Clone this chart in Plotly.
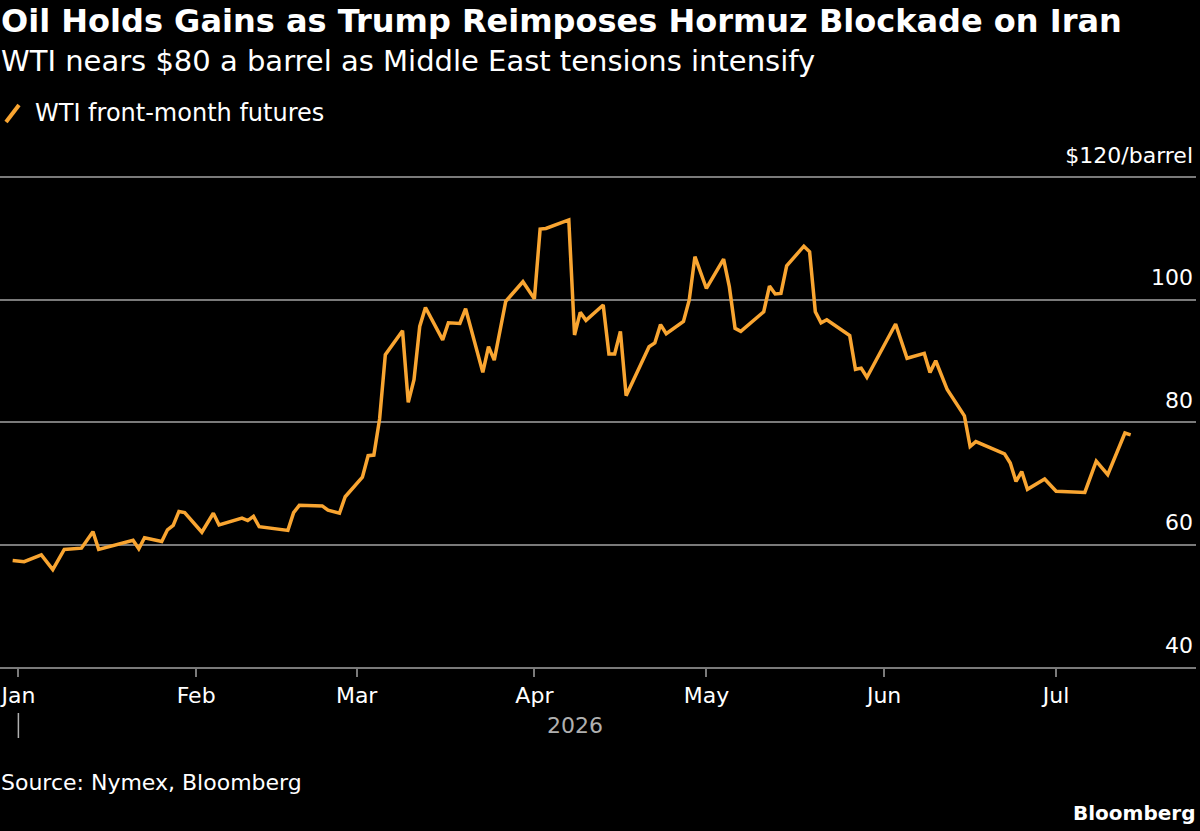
import plotly.graph_objects as go

# ---------------- data ----------------
dates = [
    "2025-12-31", "2026-01-02", "2026-01-05", "2026-01-07", "2026-01-09", "2026-01-12",
    "2026-01-14", "2026-01-15", "2026-01-21", "2026-01-22", "2026-01-23", "2026-01-26",
    "2026-01-27", "2026-01-28", "2026-01-29", "2026-01-30", "2026-02-02", "2026-02-04",
    "2026-02-05", "2026-02-09", "2026-02-10", "2026-02-11", "2026-02-12", "2026-02-17",
    "2026-02-18", "2026-02-19", "2026-02-23", "2026-02-24", "2026-02-26", "2026-02-27",
    "2026-03-02", "2026-03-03", "2026-03-04", "2026-03-05", "2026-03-06", "2026-03-09",
    "2026-03-10", "2026-03-11", "2026-03-12", "2026-03-13", "2026-03-16", "2026-03-17",
    "2026-03-19", "2026-03-20", "2026-03-23", "2026-03-24", "2026-03-25", "2026-03-27",
    "2026-03-30", "2026-04-01", "2026-04-02", "2026-04-03", "2026-04-07", "2026-04-08",
    "2026-04-09", "2026-04-10", "2026-04-13", "2026-04-14", "2026-04-15", "2026-04-16",
    "2026-04-17", "2026-04-21", "2026-04-22", "2026-04-23", "2026-04-24", "2026-04-27",
    "2026-04-28", "2026-04-29", "2026-05-01", "2026-05-04", "2026-05-05", "2026-05-06",
    "2026-05-07", "2026-05-11", "2026-05-12", "2026-05-13", "2026-05-14", "2026-05-15",
    "2026-05-18", "2026-05-19", "2026-05-20", "2026-05-21", "2026-05-22", "2026-05-26",
    "2026-05-27", "2026-05-28", "2026-05-29", "2026-06-03", "2026-06-05", "2026-06-08",
    "2026-06-09", "2026-06-10", "2026-06-12", "2026-06-15", "2026-06-16", "2026-06-17",
    "2026-06-22", "2026-06-23", "2026-06-24", "2026-06-25", "2026-06-26", "2026-06-29",
    "2026-07-01", "2026-07-06", "2026-07-08", "2026-07-10", "2026-07-13", "2026-07-14",
]
wti = [
    57.4, 57.2, 58.3, 55.9, 59.2, 59.4,
    62.1, 59.2, 60.7, 59.3, 61.1, 60.5,
    62.4, 63.1, 65.4, 65.2, 62.0, 65.1,
    63.2, 64.3, 63.9, 64.6, 62.9, 62.3,
    65.2, 66.4, 66.3, 65.6, 65.1, 67.8,
    71.0, 74.5, 74.6, 80.5, 91.0, 94.9,
    83.2, 86.9, 95.6, 98.7, 93.4, 96.2,
    96.1, 98.5, 88.1, 92.3, 90.1, 99.7,
    102.9, 100.1, 111.5, 111.6, 113.0, 94.2,
    97.9, 96.6, 99.1, 91.1, 91.1, 94.8,
    84.3, 92.3, 92.9, 95.9, 94.4, 96.4,
    99.9, 107.0, 101.8, 106.6, 102.1, 95.3,
    94.8, 98.0, 102.2, 100.9, 101.0, 105.5,
    108.7, 107.8, 98.0, 96.2, 96.7, 94.1,
    88.6, 88.8, 87.3, 96.0, 90.4, 91.2,
    88.1, 90.0, 85.3, 81.0, 76.0, 76.8,
    74.8, 73.3, 70.3, 71.9, 69.0, 70.7,
    68.7, 68.5, 73.6, 71.4, 78.2, 77.9,
]
month_ticks = ["2026-01-01", "2026-02-01", "2026-03-01", "2026-04-01",
               "2026-05-01", "2026-06-01", "2026-07-01"]
month_labels = ["Jan", "Feb", "Mar", "Apr", "May", "Jun", "Jul"]
y_ticks = [40, 60, 80, 100, 120]
y_labels = ["40", "60", "80", "100", "$120/barrel"]

title = "Oil Holds Gains as Trump Reimposes Hormuz Blockade on Iran"
subtitle = "WTI nears $80 a barrel as Middle East tensions intensify"
series_name = "WTI front-month futures"
source = "Source: Nymex, Bloomberg"
year_label = "2026"

# ---------------- layout helpers ----------------
W, H = 1200, 831
L, R, T, B = 0, 4, 168, 164
PH = H - T - B
PW = W - L - R
FONT = "DejaVu Sans"
ORANGE = "#f9a531"
GRID = "#7a7a7a"
PX_PER_DOLLAR = 6.125
Y_MIN = 40
Y_MAX = 40 + PH / PX_PER_DOLLAR   # 120 lands at y=177 with headroom above


def py(p):
    return (H - B - p) / PH


def px(p):
    return (p - L) / PW


fig = go.Figure()
fig.add_trace(go.Scatter(
    x=dates, y=wti, mode="lines", name=series_name,
    line=dict(color=ORANGE, width=3.5), showlegend=False,
    hoverinfo="x+y",
))

fig.update_layout(
    width=W, height=H,
    paper_bgcolor="black", plot_bgcolor="black",
    margin=dict(l=L, r=R, t=T, b=B, autoexpand=False),
    font=dict(family=FONT, color="white", size=22),
    xaxis=dict(
        type="date",
        range=["2025-12-28 19:00", "2026-07-25 09:30"],
        tickvals=month_ticks, ticktext=month_labels,
        ticks="outside", ticklen=8, tickwidth=1.5, tickcolor=GRID,
        showline=True, linecolor=GRID, linewidth=2,
        showgrid=False, zeroline=False,
        ticklabeloverflow="allow",
        tickfont=dict(family=FONT, size=22, color="white"),
        automargin=False,
    ),
    yaxis=dict(
        range=[Y_MIN, Y_MAX], side="right",
        tickvals=y_ticks, ticktext=y_labels,
        ticklabelposition="inside", ticklabelshift=-22, ticklabelstandoff=0,
        ticklabeloverflow="allow",
        showgrid=True, gridcolor=GRID, gridwidth=1.5,
        zeroline=False, showline=False, ticks="",
        tickfont=dict(family=FONT, size=22, color="white"),
        automargin=False,
    ),
)

ann = [
    dict(text=f"<b>{title}</b>", x=px(0), y=py(21), xanchor="left", yanchor="middle",
         font=dict(family=FONT, size=32, color="white")),
    dict(text=subtitle, x=px(0), y=py(61), xanchor="left", yanchor="middle",
         font=dict(family=FONT, size=29, color="white")),
    dict(text=series_name, x=px(34), y=py(113), xanchor="left", yanchor="middle",
         font=dict(family=FONT, size=24, color="white")),
    dict(text=year_label, x="2026-04-08", xref="x", y=py(725), xanchor="center", yanchor="middle",
         font=dict(family=FONT, size=22, color="#b0b0b0")),
    dict(text=source, x=px(0), y=py(782), xanchor="left", yanchor="middle",
         font=dict(family=FONT, size=22, color="white")),
    dict(text="<b>Bloomberg</b>", x=px(1196), y=py(813), xanchor="right", yanchor="middle",
         font=dict(family=FONT, size=20, color="white")),
]
for a in ann:
    a.setdefault("xref", "paper")
    a["yref"] = "paper"
    a["showarrow"] = False
    a["borderpad"] = 0
fig.update_layout(annotations=ann)

fig.update_layout(shapes=[
    # legend swatch
    dict(type="line", xref="paper", yref="paper",
         x0=px(6), y0=py(122), x1=px(19), y1=py(105),
         line=dict(color=ORANGE, width=4)),
    # year divider tick below Jan
    dict(type="line", xref="x", yref="paper",
         x0="2026-01-01", x1="2026-01-01", y0=py(713), y1=py(738),
         line=dict(color="#b0b0b0", width=1.5)),
])

fig.write_html("out.html")
